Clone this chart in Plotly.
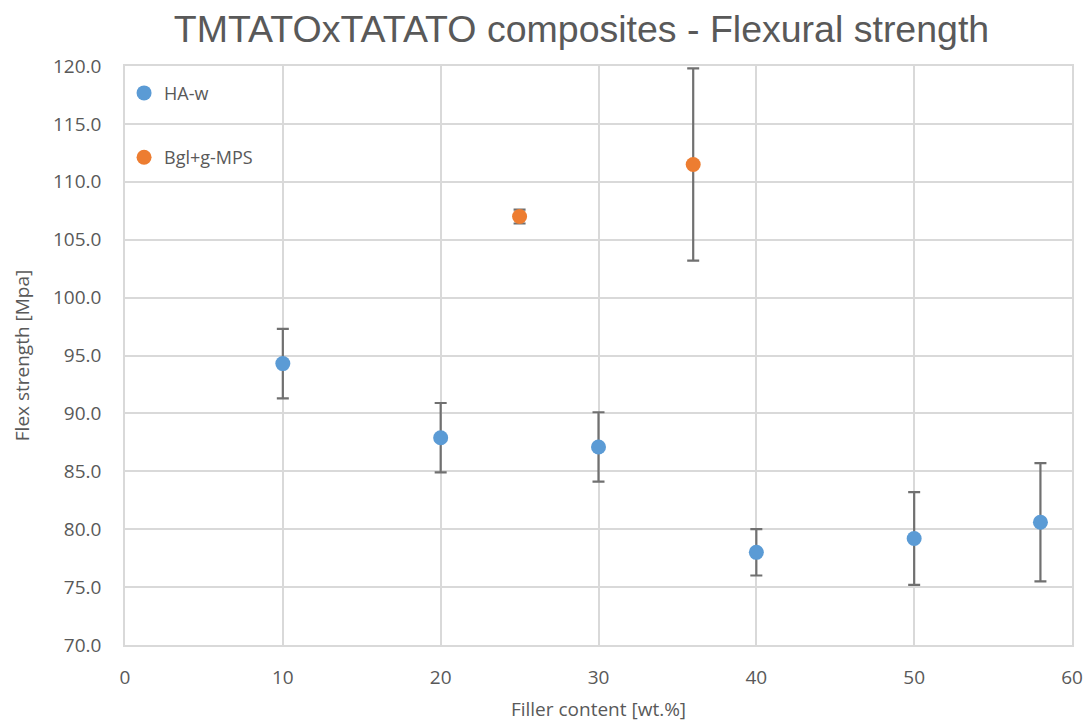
import plotly.graph_objects as go

# Flexural strength of TMTATOxTATATO composites vs filler content
ha_x = [10, 20, 30, 40, 50, 58]
ha_y = [94.3, 87.9, 87.1, 78.0, 79.2, 80.6]
ha_err = [3.0, 3.0, 3.0, 2.0, 4.0, 5.1]

bgl_x = [25, 36]
bgl_y = [107.0, 111.5]
bgl_err = [0.6, 8.3]

x_ticks = [0, 10, 20, 30, 40, 50, 60]
y_ticks = [70, 75, 80, 85, 90, 95, 100, 105, 110, 115, 120]

grid = "#d9d9d9"
text_col = "#595959"
err_col = "#707070"
blank = "rgba(0,0,0,0)"

fig = go.Figure()
fig.add_trace(go.Scatter(
    x=ha_x, y=ha_y, mode="markers", name="HA-w", legendgroup="a",
    marker=dict(color="#5B9BD5", size=15),
    error_y=dict(type="data", array=ha_err, color=err_col, thickness=2.2, width=6),
))
fig.add_trace(go.Scatter(
    x=bgl_x, y=bgl_y, mode="markers", name="Bgl+g-MPS", legendgroup="b",
    marker=dict(color="#ED7D31", size=15),
    error_y=dict(type="data", array=bgl_err, color=err_col, thickness=2.2, width=6),
))

fig.update_layout(
    width=1091, height=722,
    margin=dict(l=125, r=19, t=66, b=77),
    paper_bgcolor="white", plot_bgcolor="white",
    title=dict(text="TMTATOxTATATO composites - Flexural strength",
               font=dict(family="Liberation Sans, Arial", size=37.5, color=text_col),
               x=0.533, xanchor="center", y=0.96, yanchor="middle"),
    font=dict(family="Open Sans, Lato", color=text_col),
    legend=dict(x=-0.001, y=0.985, xanchor="left", yanchor="top",
                bgcolor=blank, tracegroupgap=38,
                font=dict(size=18, color=text_col), itemwidth=30),
    showlegend=True,
)
fig.update_xaxes(
    range=[0, 60], tickvals=x_ticks, ticktext=[str(v) for v in x_ticks],
    showgrid=True, gridcolor=grid, gridwidth=1.5,
    showline=True, linecolor=grid, linewidth=1.5, mirror=True,
    zeroline=False, ticks="outside", ticklen=14, tickcolor=blank,
    tickfont=dict(size=19, color=text_col), automargin=False,
    title=dict(text="Filler content [wt.%]", font=dict(size=19, color=text_col), standoff=15),
)
fig.update_yaxes(
    range=[70, 120], tickvals=y_ticks, ticktext=[f"{v:.1f}" for v in y_ticks],
    showgrid=True, gridcolor=grid, gridwidth=1.5,
    showline=True, linecolor=grid, linewidth=1.5, mirror=True,
    zeroline=False, ticks="outside", ticklen=18, tickcolor=blank,
    tickfont=dict(size=19, color=text_col), automargin=False,
    title=dict(text="Flex strength [Mpa]", font=dict(size=19, color=text_col), standoff=18),
)

fig.write_html("out.html")
